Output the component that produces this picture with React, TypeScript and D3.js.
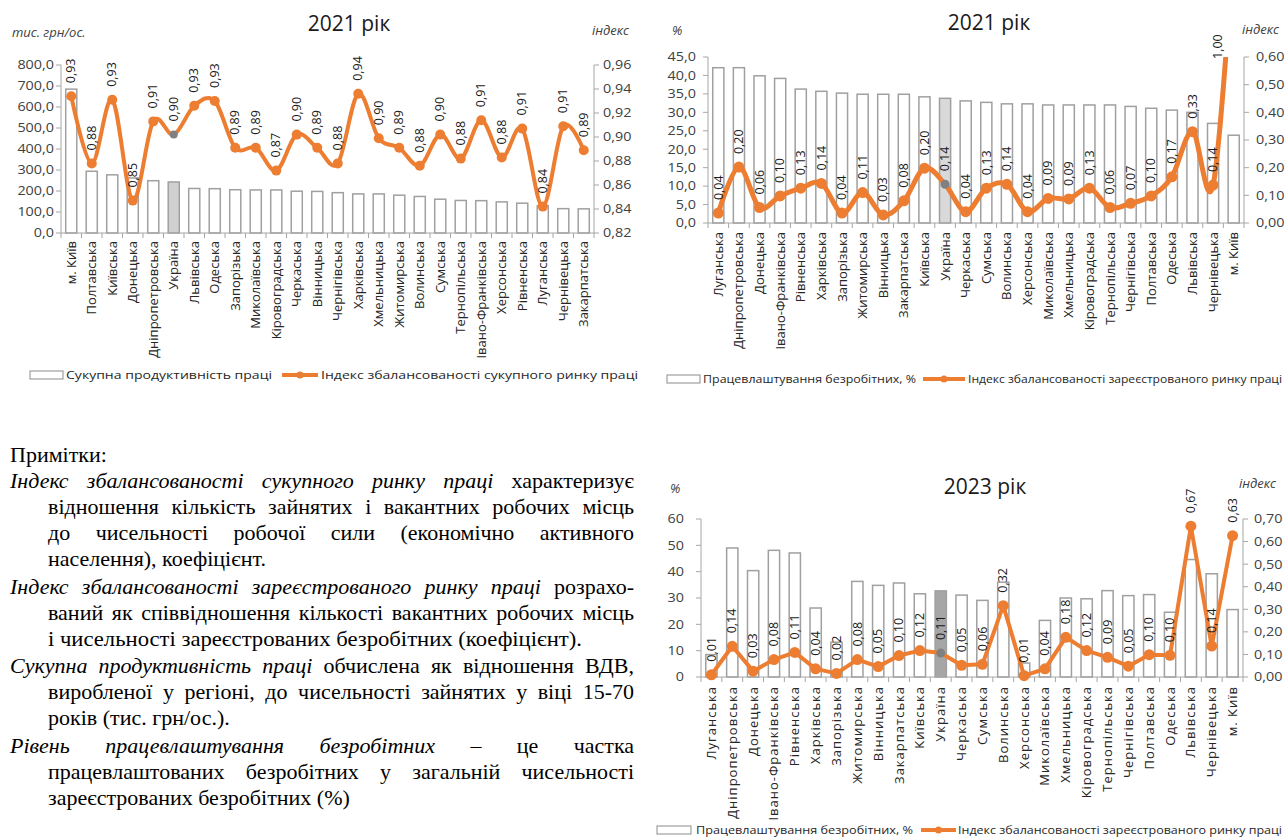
import React, { useEffect, useRef } from 'react';
import * as d3 from 'd3';

// ---- chart 1: 2021, aggregate labour market (sorted by productivity)
const regionsTotal = [
  'м. Київ', 'Полтавська', 'Київська', 'Донецька', 'Дніпропетровська', 'Україна',
  'Львівська', 'Одеська', 'Запорізька', 'Миколаївська', 'Кіровоградська', 'Черкаська',
  'Вінницька', 'Чернігівська', 'Харківська', 'Хмельницька', 'Житомирська', 'Волинська',
  'Сумська', 'Тернопільська', 'Івано-Франківська', 'Херсонська', 'Рівненська',
  'Луганська', 'Чернівецька', 'Закарпатська',
];
const productivity2021 = [
  685, 294, 277, 262, 249, 243, 212, 211, 206, 205, 205, 199, 198,
  192, 186, 186, 180, 174, 161, 155, 154, 148, 142, 130, 116, 115,
];
const balanceTotal2021 = [
  0.934, 0.878, 0.931, 0.847, 0.913, 0.902, 0.926, 0.93, 0.891, 0.891, 0.872, 0.902, 0.891,
  0.878, 0.936, 0.899, 0.891, 0.876, 0.902, 0.882, 0.914, 0.883, 0.907, 0.842, 0.909, 0.889,
];
const productivityTicks = [0, 100, 200, 300, 400, 500, 600, 700, 800];
const balanceTotalTicks = [0.82, 0.84, 0.86, 0.88, 0.9, 0.92, 0.94, 0.96];

// ---- charts 2 and 3: registered labour market
const regionsRegistered = [
  'Луганська', 'Дніпропетровська', 'Донецька', 'Івано-Франківська', 'Рівненська', 'Харківська',
  'Запорізька', 'Житомирська', 'Вінницька', 'Закарпатська', 'Київська', 'Україна',
  'Черкаська', 'Сумська', 'Волинська', 'Херсонська', 'Миколаївська', 'Хмельницька',
  'Кіровоградська', 'Тернопільська', 'Чернігівська', 'Полтавська', 'Одеська', 'Львівська',
  'Чернівецька', 'м. Київ',
];
const employment2021 = [
  42.1, 42.1, 39.9, 39.2, 36.3, 35.7, 35.2, 34.9, 34.9, 34.9, 34.2, 33.8, 33.1,
  32.7, 32.3, 32.3, 32.0, 32.0, 32.0, 32.0, 31.6, 31.1, 30.6, 30.0, 27.0, 23.8,
];
const balanceRegistered2021 = [
  0.036, 0.202, 0.056, 0.098, 0.126, 0.143, 0.036, 0.11, 0.029, 0.08, 0.198, 0.14, 0.041,
  0.126, 0.14, 0.041, 0.089, 0.087, 0.126, 0.056, 0.071, 0.098, 0.167, 0.33, 0.137, 1.0,
];
const employment2021Ticks = [0, 5, 10, 15, 20, 25, 30, 35, 40, 45];
const balance2021Ticks = [0, 0.1, 0.2, 0.3, 0.4, 0.5, 0.6];

const employment2023 = [
  8.5, 49.0, 40.4, 48.1, 47.1, 26.2, 13.2, 36.3, 34.8, 35.7, 31.6, 32.7, 31.1,
  29.1, 36.0, 5.3, 21.5, 30.0, 29.7, 32.8, 30.9, 31.3, 24.6, 44.6, 39.2, 25.6,
];
const balanceRegistered2023 = [
  0.01, 0.136, 0.026, 0.077, 0.109, 0.036, 0.016, 0.077, 0.046, 0.095, 0.117, 0.106, 0.052,
  0.056, 0.316, 0.006, 0.036, 0.176, 0.117, 0.087, 0.048, 0.099, 0.096, 0.668, 0.137, 0.626,
];
const employment2023Ticks = [0, 10, 20, 30, 40, 50, 60];
const balance2023Ticks = [0, 0.1, 0.2, 0.3, 0.4, 0.5, 0.6, 0.7];

// notes; `end` forces a condensed line to stop at that x
const noteLines: { segs: [string, boolean][]; first?: boolean; justify?: boolean; end?: number }[] = [
  { segs: [['Примітки:', false]], first: true },
  { segs: [['Індекс збалансованості сукупного ринку праці', true], ['характеризує', false]], first: true, justify: true },
  { segs: [['відношення кількість зайнятих і вакантних робочих місць', false]], justify: true },
  { segs: [['до чисельності робочої сили (економічно активного', false]], justify: true },
  { segs: [['населення), коефіцієнт.', false]] },
  { segs: [['Індекс збалансованості зареєстрованого ринку праці', true], ['розрахо-', false]], first: true, justify: true },
  { segs: [['ваний як співвідношення кількості вакантних робочих місць', false]], justify: true },
  { segs: [['і чисельності зареєстрованих безробітних (коефіцієнт).', false]], end: 582 },
  { segs: [['Сукупна продуктивність праці', true], ['обчислена як відношення ВДВ,', false]], first: true, justify: true },
  { segs: [['виробленої у регіоні, до чисельності зайнятих у віці 15-70', false]], justify: true },
  { segs: [['років (тис. грн/ос.).', false]] },
  { segs: [['Рівень працевлаштування безробітних', true], ['– це частка', false]], first: true, justify: true },
  { segs: [['працевлаштованих безробітних у загальній чисельності', false]], justify: true },
  { segs: [['зареєстрованих безробітних (%)', false]] },
];

const ORANGE = '#ED7D31';
const FONT = '"Open Sans", "DejaVu Sans", sans-serif';
const fmt = (f: string) => (v: number) => d3.format(f)(v).replace('.', ',');

const charts = [
  {
    id: 'c1', cats: regionsTotal, bars: productivity2021, idx: balanceTotal2021,
    x0: 61, x1: 594, yTop: 65, yBottom: 233,
    barMax: 800, leftTicks: productivityTicks, leftFmt: fmt('.1f'), gapL: 7,
    idxDomain: [0.82, 0.96], rightTicks: balanceTotalTicks, rightFmt: fmt('.2f'), gapR: 9,
    smooth: true, lineW: 4, markerR: 5, hlFill: '#d0d0d0',
    title: '2021 рік', titleX: 349, titleY: 31,
    unitL: 'тис. грн/ос.', unitLX: 12, unitLY: 37, unitRX: 592, unitRY: 35,
    catTop: 241, catSpacing: 0,
    barName: 'Сукупна продуктивність праці', lineName: 'Індекс збалансованості сукупного ринку праці',
    legend: { y: 375, rectX: 30, rectW: 33, t1X: 66, t1W: 206, lX1: 282, lX2: 318, t2X: 321, t2W: 317 },
  },
  {
    id: 'c2', cats: regionsRegistered, bars: employment2021, idx: balanceRegistered2021,
    x0: 708, x1: 1244, yTop: 57, yBottom: 223,
    barMax: 45, leftTicks: employment2021Ticks, leftFmt: fmt('.1f'), gapL: 12,
    idxDomain: [0, 0.6], rightTicks: balance2021Ticks, rightFmt: fmt('.2f'), gapR: 12,
    smooth: true, lineW: 5, markerR: 5.5, hlFill: '#d9d9d9',
    title: '2021 рік', titleX: 989, titleY: 30,
    unitL: '%', unitLX: 672, unitLY: 35, unitRX: 1242, unitRY: 34,
    catTop: 232, catSpacing: 0,
    barName: 'Працевлаштування безробітних, %', lineName: 'Індекс збалансованості зареєстрованого ринку праці',
    legend: { y: 379, rectX: 667, rectW: 33, t1X: 703, t1W: 213, lX1: 923, lX2: 965, t2X: 968, t2W: 314 },
  },
  {
    id: 'c3', cats: regionsRegistered, bars: employment2023, idx: balanceRegistered2023,
    x0: 701, x1: 1243, yTop: 519, yBottom: 677,
    barMax: 60, leftTicks: employment2023Ticks, leftFmt: fmt('d'), gapL: 17,
    idxDomain: [0, 0.7], rightTicks: balance2023Ticks, rightFmt: fmt('.2f'), gapR: 11,
    smooth: false, lineW: 4, markerR: 5.5, hlFill: '#a6a6a6',
    title: '2023 рік', titleX: 985, titleY: 494,
    unitL: '%', unitLX: 670, unitLY: 493, unitRX: 1239, unitRY: 488,
    catTop: 686, catSpacing: 1,
    barName: 'Працевлаштування безробітних, %', lineName: 'Індекс збалансованості зареєстрованого ринку праці',
    legend: { y: 830, rectX: 657, rectW: 34, t1X: 696, t1W: 217, lX1: 921, lX2: 956, t2X: 958, t2W: 324 },
  },
];

function drawCombo(svg: any, c: any) {
  const g = svg.append('g').attr('font-family', FONT);
  const x = d3.scaleBand<string>().domain(c.cats).range([c.x0, c.x1]).paddingInner(0.46).paddingOuter(0.23);
  const yBar = d3.scaleLinear().domain([0, c.barMax]).range([c.yBottom, c.yTop]);
  const yIdx = d3.scaleLinear().domain(c.idxDomain).range([c.yBottom, c.yTop]);
  const cx = (d: string) => (x(d) as number) + x.bandwidth() / 2;
  const fmtIdx = fmt('.2f');

  // bars
  g.append('g').selectAll('rect').data(c.cats).join('rect')
    .attr('x', (d: string) => x(d)).attr('width', x.bandwidth())
    .attr('y', (d: string, i: number) => yBar(c.bars[i]))
    .attr('height', (d: string, i: number) => c.yBottom - yBar(c.bars[i]))
    .attr('fill', (d: string) => d === 'Україна' ? c.hlFill : '#fff')
    .attr('stroke', '#a0a0a0').attr('stroke-width', 1.5);

  // axes
  const ax = g.append('g').attr('stroke', '#a6a6a6').attr('stroke-width', 1);
  ax.append('line').attr('x1', c.x0).attr('x2', c.x0).attr('y1', c.yTop).attr('y2', c.yBottom);
  ax.append('line').attr('x1', c.x1).attr('x2', c.x1).attr('y1', c.yTop).attr('y2', c.yBottom);
  ax.append('line').attr('x1', c.x0).attr('x2', c.x1).attr('y1', c.yBottom).attr('y2', c.yBottom);
  c.leftTicks.forEach((v: number) => ax.append('line')
    .attr('x1', c.x0 - 5).attr('x2', c.x0).attr('y1', yBar(v)).attr('y2', yBar(v)));
  c.rightTicks.forEach((v: number) => ax.append('line')
    .attr('x1', c.x1).attr('x2', c.x1 + 5).attr('y1', yIdx(v)).attr('y2', yIdx(v)));
  d3.range(c.cats.length + 1).forEach(i => {
    const xx = c.x0 + i * x.step();
    ax.append('line').attr('x1', xx).attr('x2', xx).attr('y1', c.yBottom).attr('y2', c.yBottom + 5);
  });

  const tickText = (tx: number, ty: number, s: string, anchor: string) =>
    g.append('text').attr('transform', `translate(${tx},${ty}) scale(1.15,1)`)
      .attr('text-anchor', anchor).attr('dy', '0.35em').attr('font-size', 12.5)
      .attr('fill', '#404040').text(s);
  c.leftTicks.forEach((v: number) => tickText(c.x0 - c.gapL, yBar(v), c.leftFmt(v), 'end'));
  c.rightTicks.forEach((v: number) => tickText(c.x1 + c.gapR, yIdx(v), c.rightFmt(v), 'start'));

  // index line
  const clipId = 'clip-' + c.id;
  g.append('clipPath').attr('id', clipId).append('rect')
    .attr('x', c.x0).attr('y', c.yTop).attr('width', c.x1 - c.x0).attr('height', c.yBottom - c.yTop + 10);
  const pts: [number, number][] = c.cats.map((d: string, i: number) => [cx(d), yIdx(c.idx[i])]);
  const line = d3.line().curve(c.smooth ? d3.curveCardinal.tension(0) : d3.curveLinear);
  g.append('path').attr('clip-path', `url(#${clipId})`).attr('d', line(pts))
    .attr('fill', 'none').attr('stroke', ORANGE).attr('stroke-width', c.lineW)
    .attr('stroke-linejoin', 'round').attr('stroke-linecap', 'round');
  g.append('g').attr('clip-path', `url(#${clipId})`).selectAll('circle').data(c.cats).join('circle')
    .attr('cx', cx).attr('cy', (d: string, i: number) => yIdx(c.idx[i]))
    .attr('r', (d: string) => d === 'Україна' ? c.markerR - 1 : c.markerR)
    .attr('fill', (d: string) => d === 'Україна' ? '#808080' : ORANGE);

  // data labels
  c.cats.forEach((d: string, i: number) => {
    const v = c.idx[i];
    const over = v > c.idxDomain[1];
    const px = over ? cx(d) - x.step() * 0.75 : cx(d);
    const py = over ? c.yTop + 2 : yIdx(v) - 13;
    g.append('text').attr('transform', `translate(${px + 4.2},${py}) rotate(-90)`)
      .attr('font-size', 12.5).attr('fill', '#1a1a1a').text(fmtIdx(v));
  });

  // category labels
  c.cats.forEach((d: string) => g.append('text')
    .attr('transform', `translate(${cx(d) + 4.5},${c.catTop}) rotate(-90)`)
    .attr('text-anchor', 'end').attr('font-size', 13).attr('letter-spacing', c.catSpacing)
    .attr('fill', '#262626').text(d));

  // titles
  g.append('text').attr('x', c.titleX).attr('y', c.titleY).attr('text-anchor', 'middle')
    .attr('font-size', 21).attr('fill', '#1a1a1a').text(c.title);
  g.append('text').attr('x', c.unitLX).attr('y', c.unitLY).attr('font-style', 'italic')
    .attr('font-size', 13).attr('fill', '#404040').text(c.unitL);
  g.append('text').attr('x', c.unitRX).attr('y', c.unitRY).attr('font-style', 'italic')
    .attr('font-size', 13).attr('fill', '#404040').text('індекс');

  // legend
  const L = c.legend;
  g.append('rect').attr('x', L.rectX).attr('y', L.y - 4).attr('width', L.rectW).attr('height', 8)
    .attr('fill', '#fff').attr('stroke', '#8c8c8c');
  g.append('text').attr('x', L.t1X).attr('y', L.y).attr('dy', '0.35em').attr('font-size', 11.5)
    .attr('textLength', L.t1W).attr('lengthAdjust', 'spacingAndGlyphs').attr('fill', '#262626').text(c.barName);
  g.append('line').attr('x1', L.lX1).attr('x2', L.lX2).attr('y1', L.y).attr('y2', L.y)
    .attr('stroke', ORANGE).attr('stroke-width', 4);
  g.append('circle').attr('cx', (L.lX1 + L.lX2) / 2).attr('cy', L.y).attr('r', 3.5).attr('fill', ORANGE);
  g.append('text').attr('x', L.t2X).attr('y', L.y).attr('dy', '0.35em').attr('font-size', 11.5)
    .attr('textLength', L.t2W).attr('lengthAdjust', 'spacingAndGlyphs').attr('fill', '#262626').text(c.lineName);
}

function drawNotes(svg: any) {
  const g = svg.append('g').attr('font-family', '"Liberation Serif", "Times New Roman", serif')
    .attr('font-size', 22).attr('fill', '#000');
  const right = 634;
  const space = 5.5;
  let y = 462;
  noteLines.forEach((ln, i) => {
    if (i > 0) y += 26 + (ln.first && i > 1 ? 1.5 : 0);
    const x0 = ln.first ? 10 : 48;
    const words: { w: string; it: boolean }[] = [];
    ln.segs.forEach(([t, it]) => t.trim().split(/\s+/).forEach(w => words.push({ w, it })));
    const nodes = words.map(d => g.append('text').attr('y', y)
      .attr('font-style', d.it ? 'italic' : 'normal').text(d.w));
    const widths = nodes.map((n: any) => (n.node() as SVGTextElement).getComputedTextLength());
    const total = d3.sum(widths);
    const target = ln.end ?? (ln.justify ? right : null);
    const natural = total + space * (words.length - 1);
    if (target !== null && (ln.end || natural > target - x0)) {
      // condensed line: one text element squeezed to the target width
      nodes.forEach((n: any) => n.remove());
      const t = g.append('text').attr('x', x0).attr('y', y)
        .attr('textLength', target - x0).attr('lengthAdjust', 'spacingAndGlyphs');
      words.forEach((d, k) => t.append('tspan').attr('font-style', d.it ? 'italic' : 'normal')
        .text((k > 0 ? ' ' : '') + d.w));
      return;
    }
    const gap = ln.justify && words.length > 1 ? (right - x0 - total) / (words.length - 1) : space;
    let xx = x0;
    nodes.forEach((n: any, k: number) => { n.attr('x', xx); xx += widths[k] + gap; });
  });
}

export default function App() {
  const ref = useRef<SVGSVGElement>(null);

  useEffect(() => {
    const svg = d3.select(ref.current);
    svg.selectAll('*').remove();
    charts.forEach(c => drawCombo(svg, c));
    drawNotes(svg);
  }, []);

  return (
    <div style={{ position: 'absolute', left: 0, top: 0 }}>
      <svg ref={ref} width={1287} height={837} style={{ display: 'block', background: '#fff' }} />
    </div>
  );
}
